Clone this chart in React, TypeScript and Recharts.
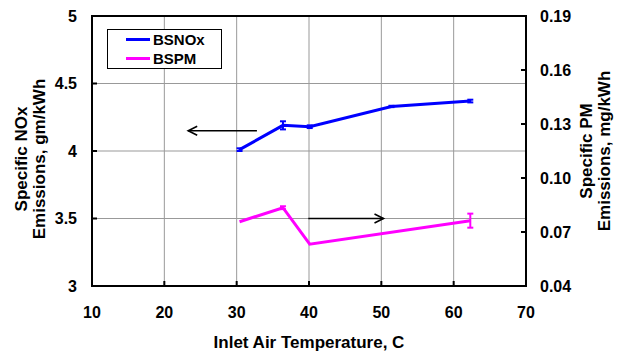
import {
  CartesianGrid,
  ErrorBar,
  Legend,
  Line,
  LineChart,
  ReferenceArea,
  ReferenceLine,
  XAxis,
  YAxis,
} from 'recharts';

const temps = [30.4, 36.4, 40.1, 51.4, 62.3];
const noxValues = [4.01, 4.19, 4.18, 4.33, 4.37];
const noxErrors = [0.01, 0.03, 0.01, 0.005, 0.01];

const pmTemps = [30.4, 36.4, 40.1, 62.3];
const pmValues = [0.0757, 0.0835, 0.0632, 0.0763];
const pmErrors = [0, 0.0008, 0, 0.0039];

const xTicks = [10, 20, 30, 40, 50, 60, 70];
const noxTicks = [3, 3.5, 4, 4.5, 5];
const pmTicks = [0.04, 0.07, 0.1, 0.13, 0.16, 0.19];

// annotation arrows: [fromX, toX, y]
const noxArrow = [32.8, 23.3, 4.15];
const pmArrow = [39.9, 50.3, 0.0775];

const noxData = temps.map((t, i) => ({ temp: t, nox: noxValues[i], err: noxErrors[i] }));
const pmData = pmTemps.map((t, i) => ({ temp: t, pm: pmValues[i], err: pmErrors[i] }));

const FONT = '"Liberation Sans", Arial, sans-serif';
const tickStyle = { fill: '#000', fontSize: 16, fontWeight: 700, fontFamily: FONT };

function Arrow(props: any) {
  const { x1, y1, x2, y2 } = props;
  const dir = x2 > x1 ? 1 : -1;
  return (
    <g stroke='#000' strokeWidth={1.6} fill='none'>
      <line x1={x1} y1={y1} x2={x2} y2={y2} />
      <path d={`M${x2 - dir * 9},${y2 - 4.5} L${x2},${y2} L${x2 - dir * 9},${y2 + 4.5}`} />
    </g>
  );
}

// rotated two-line title; posX/posY is the centre of the first line
function AxisTitle({ posX, posY, lines }: { posX: number; posY: number; lines: string[] }) {
  return (
    <text
      transform={`translate(${posX},${posY}) rotate(-90)`}
      textAnchor='middle'
      style={{ fontSize: 17, fontWeight: 'bold', fontFamily: FONT, fill: '#000' }}
    >
      {lines.map((l, i) => (
        <tspan key={l} x={0} dy={i === 0 ? 6 : 18}>
          {l}
        </tspan>
      ))}
    </text>
  );
}

function XTitle() {
  return (
    <text x={309} y={348} textAnchor='middle' style={{ fontSize: 17, fontWeight: 'bold', fontFamily: FONT, fill: '#000' }}>
      Inlet Air Temperature, C
    </text>
  );
}

function LegendBox(props: any) {
  const items = props.payload || [];
  return (
    <div
      style={{
        width: 115,
        height: 40,
        border: '1px solid #000',
        background: '#fff',
        fontFamily: FONT,
        fontWeight: 700,
        fontSize: 15,
        boxSizing: 'border-box',
      }}
    >
      {items.map((it: any) => (
        <div key={it.value} style={{ display: 'flex', alignItems: 'center', height: 19 }}>
          <span style={{ display: 'inline-block', width: 24, height: 3, background: it.color, marginLeft: 18, marginRight: 3 }} />
          {it.value}
        </div>
      ))}
    </div>
  );
}

export default function App() {
  return (
    <div style={{ position: 'absolute', left: 0, top: 0, background: '#fff' }}>
      <LineChart width={624} height={352} margin={{ top: 16, right: 0, left: 0, bottom: 0 }}>
        <CartesianGrid yAxisId='left' stroke='#999' strokeWidth={1} />
        <XAxis
          type='number'
          dataKey='temp'
          domain={[10, 70]}
          ticks={xTicks}
          height={66}
          axisLine={{ stroke: '#000', strokeWidth: 2 }}
          tickLine={{ stroke: '#000', strokeWidth: 2 }}
          tickSize={-5}
          tickMargin={26}
          tick={tickStyle}
          label={<XTitle />}
        />
        <YAxis
          yAxisId='left'
          domain={[3, 5]}
          ticks={noxTicks}
          width={92}
          axisLine={{ stroke: '#000', strokeWidth: 2 }}
          tickLine={{ stroke: '#000', strokeWidth: 2 }}
          tickSize={-5}
          tickMargin={20}
          tick={tickStyle}
          label={<AxisTitle posX={21} posY={159} lines={['Specific NOx', 'Emissions, gm/kWh']} />}
        />
        <YAxis
          yAxisId='right'
          orientation='right'
          domain={[0.04, 0.19]}
          ticks={pmTicks}
          width={98}
          axisLine={{ stroke: '#000', strokeWidth: 2 }}
          tickLine={{ stroke: '#000', strokeWidth: 2 }}
          tickSize={-5}
          tickMargin={19}
          tick={{ ...tickStyle, textAnchor: 'start' }}
          tickFormatter={(v: number) => v.toFixed(2)}
          label={<AxisTitle posX={586} posY={151} lines={['Specific PM', 'Emissions, mg/kWh']} />}
        />
        <ReferenceArea yAxisId='left' x1={10} x2={70} y1={3} y2={5} fill='none' stroke='#000' strokeWidth={2} />
        <ReferenceLine
          yAxisId='left'
          segment={[
            { x: noxArrow[0], y: noxArrow[2] },
            { x: noxArrow[1], y: noxArrow[2] },
          ]}
          shape={Arrow}
        />
        <ReferenceLine
          yAxisId='right'
          segment={[
            { x: pmArrow[0], y: pmArrow[2] },
            { x: pmArrow[1], y: pmArrow[2] },
          ]}
          shape={Arrow}
        />
        <Line
          yAxisId='left'
          data={noxData}
          dataKey='nox'
          name='BSNOx'
          stroke='#0000ff'
          strokeWidth={3}
          dot={false}
          isAnimationActive={false}
        >
          <ErrorBar dataKey='err' direction='y' width={3} stroke='#0000ff' strokeWidth={2} />
        </Line>
        <Line
          yAxisId='right'
          data={pmData}
          dataKey='pm'
          name='BSPM'
          stroke='#ff00ff'
          strokeWidth={3}
          dot={false}
          isAnimationActive={false}
        >
          <ErrorBar dataKey='err' direction='y' width={3} stroke='#ff00ff' strokeWidth={2} />
        </Line>
        <Legend
          layout='vertical'
          align='center'
          verticalAlign='middle'
          content={LegendBox}
          wrapperStyle={{ position: 'absolute', left: 107, top: 29, width: 115, height: 40 }}
        />
      </LineChart>
    </div>
  );
}
